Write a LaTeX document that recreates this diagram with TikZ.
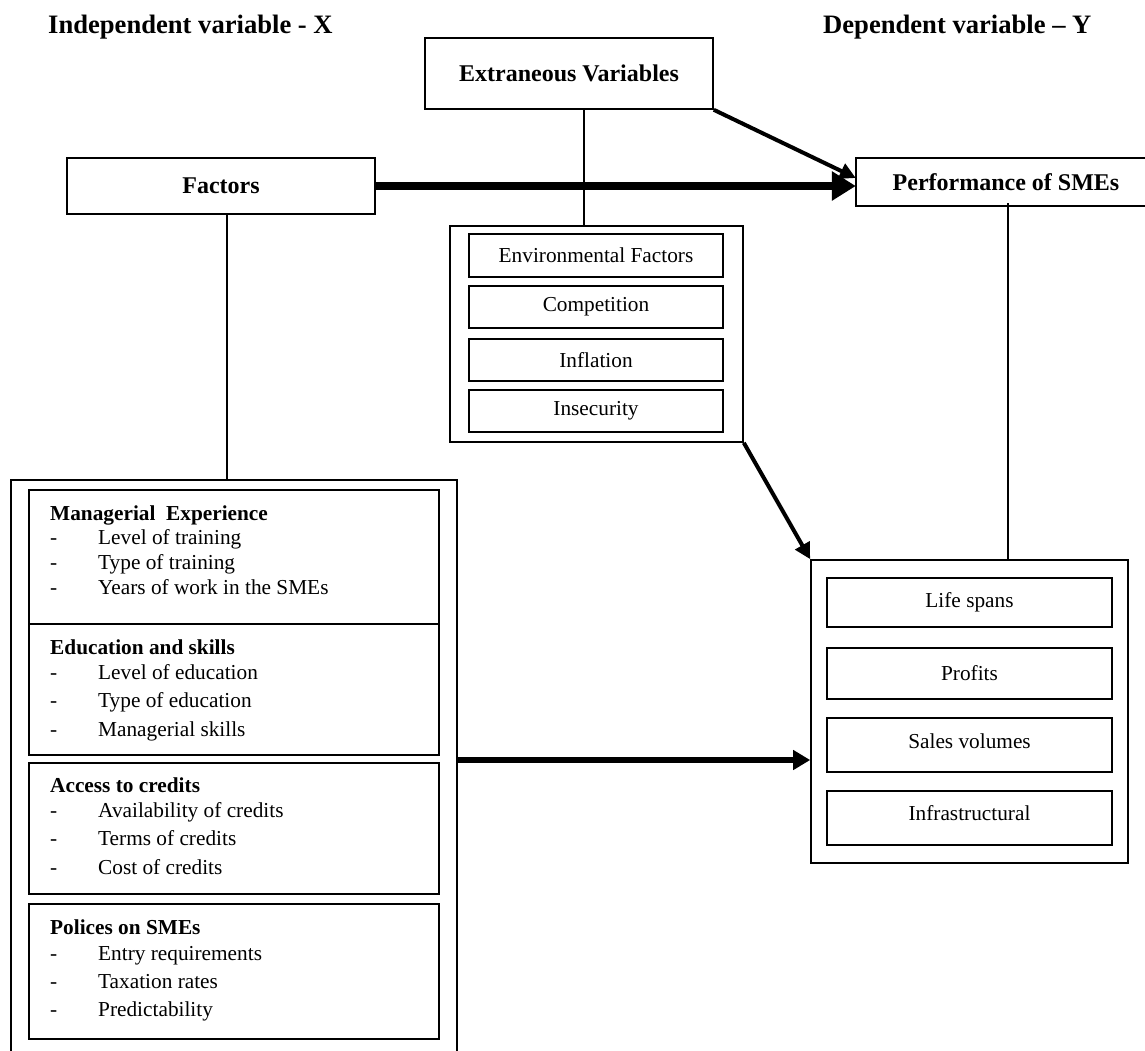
\documentclass[tikz,border=0pt]{standalone}
\usepackage{fontspec}
\setmainfont{Liberation Serif}
\usetikzlibrary{arrows.meta}
\begin{document}
\begin{tikzpicture}[x=1pt,y=-1pt,
  box/.style={draw,line width=1.6pt,inner sep=0pt},
  openbox/.style={inner sep=0pt},
  sub/.style={draw,line width=2pt,inner sep=0pt},
  hd/.style={font=\fontsize{26.6}{30}\selectfont\bfseries,inner sep=0pt},
  ttl/.style={font=\fontsize{24}{28}\selectfont\bfseries,inner sep=0pt},
  txt/.style={font=\fontsize{21.3}{25}\selectfont,inner sep=0pt},
  ltxt/.style={font=\fontsize{21.3}{25}\selectfont,inner sep=0pt,anchor=base west},
  lhd/.style={font=\fontsize{21.3}{25}\selectfont\bfseries,inner sep=0pt,anchor=base west},
  link/.style={line width=2.5pt},
  bigarrow/.style={line width=8pt,-{Triangle[length=24pt,width=28pt]}},
  midarrow/.style={line width=5.5pt,-{Triangle[length=17pt,width=19pt]}},
  diagarrow/.style={line width=4pt,-{Triangle[length=16pt,width=16pt]}}]
\useasboundingbox (0,0) rectangle (1145,1050);

% headings
\node[hd,anchor=base west] (hx) at (48,33) {Independent variable - X};
\node[hd,anchor=base west] (hy) at (823,33) {Dependent variable -- Y};

% top boxes
\node[box,minimum width=288pt,minimum height=71pt,ttl] (ext) at (569,73.5) {Extraneous Variables};
\node[box,minimum width=308pt,minimum height=56pt,ttl] (factors) at (221,186) {Factors};
\node[openbox,minimum width=294pt,minimum height=48pt,ttl] (perf) at (1003,182) {\hspace*{6pt}Performance of SMEs};
\draw[line width=1.6pt] (perf.north east) -- (perf.north west) -- (perf.south west) -- (perf.south east);

% extraneous inner box
\node[box,minimum width=293pt,minimum height=216pt] (extin) at (596.5,334) {};
\node[sub,minimum width=254pt,minimum height=43pt,txt] (env) at (596,255.5) {Environmental Factors};
\node[sub,minimum width=254pt,minimum height=42pt,txt] (comp) at (596,307) {Competition};
\node[sub,minimum width=254pt,minimum height=42pt,txt] (infl) at (596,360) {Inflation};
\node[sub,minimum width=254pt,minimum height=42pt,txt] (insec) at (596,411) {Insecurity};

% results box
\node[box,minimum width=317pt,minimum height=303pt] (res) at (969.5,711.5) {};
\node[sub,minimum width=285pt,minimum height=49pt,txt] (life) at (969.5,602.5) {Life spans};
\node[sub,minimum width=285pt,minimum height=51pt,txt] (prof) at (969.5,673.5) {Profits};
\node[sub,minimum width=285pt,minimum height=54pt] (sales) at (969.5,745) {};
\node[txt] (salest) at (969.5,741) {Sales volumes};
\node[sub,minimum width=285pt,minimum height=54pt] (infra) at (969.5,818) {};
\node[txt] (infrat) at (969.5,813) {Infrastructural};

% left outer (open at the bottom)
\node[openbox,minimum width=446pt,minimum height=575pt] (lout) at (234,767.5) {};
\draw[line width=1.6pt] (lout.south west) -- (lout.north west) -- (lout.north east) -- (lout.south east);
\node[sub,minimum width=410pt,minimum height=134pt] (m1) at (234,557) {};
\node[sub,minimum width=410pt,minimum height=131pt] (m2) at (234,689.5) {};
\node[sub,minimum width=410pt,minimum height=131pt] (m3) at (234,828.5) {};
\node[sub,minimum width=410pt,minimum height=135pt] (m4) at (234,971.5) {};

% texts box 1
\node[lhd] (h1) at (50,520) {Managerial\ \ Experience};
\node[ltxt] (d11) at (50,544) {-};  \node[ltxt] (t11) at (98,544) {Level of training};
\node[ltxt] (d12) at (50,569) {-};  \node[ltxt] (t12) at (98,569) {Type of training};
\node[ltxt] (d13) at (50,594) {-};  \node[ltxt] (t13) at (98,594) {Years of work in the SMEs};
% box 2
\node[lhd] (h2) at (50,654) {Education and skills};
\node[ltxt] (d21) at (50,679) {-};  \node[ltxt] (t21) at (98,679) {Level of education};
\node[ltxt] (d22) at (50,707) {-};  \node[ltxt] (t22) at (98,707) {Type of education};
\node[ltxt] (d23) at (50,736) {-};  \node[ltxt] (t23) at (98,736) {Managerial skills};
% box 3
\node[lhd] (h3) at (50,792) {Access to credits};
\node[ltxt] (d31) at (50,817) {-};  \node[ltxt] (t31) at (98,817) {Availability of credits};
\node[ltxt] (d32) at (50,845) {-};  \node[ltxt] (t32) at (98,845) {Terms of credits};
\node[ltxt] (d33) at (50,874) {-};  \node[ltxt] (t33) at (98,874) {Cost of credits};
% box 4
\node[lhd] (h4) at (50,934) {Polices on SMEs};
\node[ltxt] (d41) at (50,960) {-};  \node[ltxt] (t41) at (98,960) {Entry requirements};
\node[ltxt] (d42) at (50,988) {-};  \node[ltxt] (t42) at (98,988) {Taxation rates};
\node[ltxt] (d43) at (50,1016) {-}; \node[ltxt] (t43) at (98,1016) {Predictability};

% connectors
\draw[link] ([xshift=15pt]ext.south) -- ([xshift=15pt]ext.south |- extin.north);
\draw[link] ([xshift=6pt]factors.south) -- ([xshift=6pt]factors.south |- lout.north);
\draw[link] ([xshift=5pt,yshift=3pt]perf.south) -- ([xshift=5pt]perf.south |- res.north);
\draw[bigarrow] (factors.east) -- (factors.east -| perf.west);
\draw[diagarrow] (ext.south east) -- ([yshift=4pt]perf.west);
\draw[diagarrow] (extin.south east) -- (res.north west);
\draw[midarrow] ([yshift=7.5pt]lout.east) -- ([yshift=7.5pt]lout.east -| res.west);
\end{tikzpicture}
\end{document}
